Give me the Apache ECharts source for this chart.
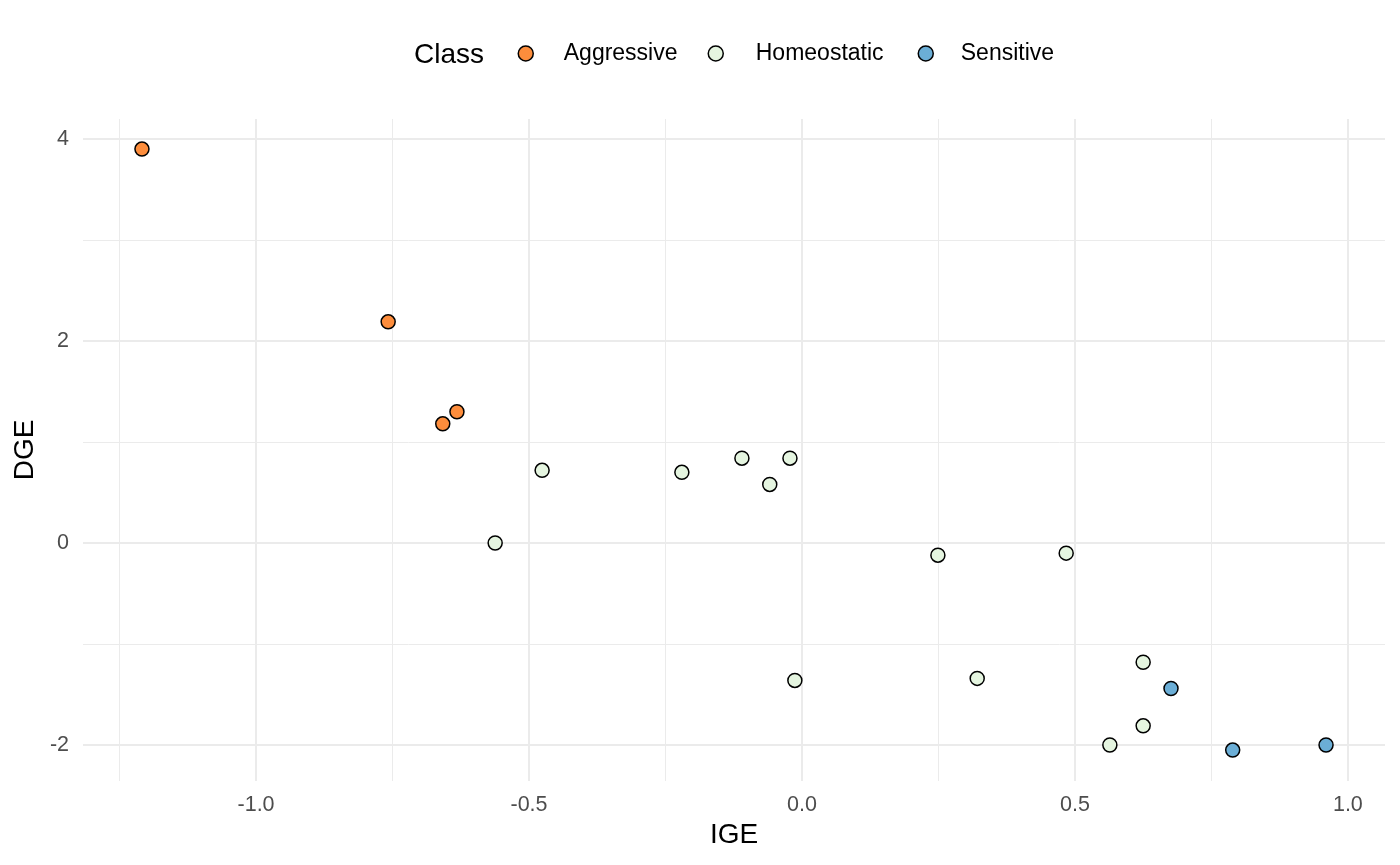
<!DOCTYPE html>
<html>
<head>
<meta charset="utf-8">
<script src="https://cdn.jsdelivr.net/npm/echarts@6/dist/echarts.min.js"></script>
<style>html,body{margin:0;padding:0;background:#fff}#c{width:1400px;height:865px}</style>
</head>
<body>
<div id="c"></div>
<script>
const classes = ['Aggressive', 'Homeostatic', 'Sensitive'];
const classColors = ['#fd8d3c', '#e5f5e0', '#6baed6'];

const aggressiveIGE = [-1.209, -0.758, -0.658, -0.632];
const aggressiveDGE = [3.90, 2.19, 1.18, 1.30];

const homeostaticIGE = [-0.562, -0.476, -0.220, -0.110, -0.059, -0.022, -0.013, 0.249, 0.321, 0.484, 0.625, 0.625, 0.564];
const homeostaticDGE = [0.00, 0.72, 0.70, 0.84, 0.58, 0.84, -1.36, -0.12, -1.34, -0.10, -1.18, -1.81, -2.00];

const sensitiveIGE = [0.676, 0.789, 0.960];
const sensitiveDGE = [-1.44, -2.05, -2.00];

const xMajorTicks = [-1.0, -0.5, 0.0, 0.5, 1.0];
const xMinorTicks = [-1.25, -0.75, -0.25, 0.25, 0.75];
const yMajorTicks = [-2, 0, 2, 4];
const yMinorTicks = [-1, 1, 3];

const xRange = [-1.317, 1.068];
const yRange = [-2.356, 4.198];

const FONT = '"Liberation Sans", Arial, sans-serif';

function pairs(xs, ys) { return xs.map((x, i) => [x, ys[i]]); }
const seriesData = [pairs(aggressiveIGE, aggressiveDGE), pairs(homeostaticIGE, homeostaticDGE), pairs(sensitiveIGE, sensitiveDGE)];

// legend item layout: [left, text padding]
const legendLayout = [[517.5, 25.5], [707.5, 27.5], [917.5, 22.5]];

const chart = echarts.init(document.getElementById('c'), null, { renderer: 'canvas' });
chart.setOption({
  animation: false,
  backgroundColor: '#ffffff',
  textStyle: { fontFamily: FONT },
  title: {
    text: 'Class', left: 414, top: 41, padding: 0,
    textStyle: { fontFamily: FONT, fontSize: 28, fontWeight: 'normal', color: '#000' }
  },
  legend: classes.map((name, i) => ({
    left: legendLayout[i][0], top: 42, padding: 0, itemWidth: 15, itemHeight: 15, icon: 'circle',
    data: [name],
    textStyle: { fontFamily: FONT, fontSize: 23, color: '#000', padding: [2, 0, 0, legendLayout[i][1]] },
    itemStyle: { borderColor: '#000', borderWidth: 1.5 }
  })),
  grid: { left: 83, right: 15, top: 119, bottom: 84, containLabel: false },
  xAxis: [{
    type: 'value', min: xRange[0], max: xRange[1],
    name: 'IGE', nameLocation: 'middle', nameGap: 40,
    nameTextStyle: { fontFamily: FONT, fontSize: 28, color: '#000' },
    axisLine: { show: false }, axisTick: { show: false, customValues: xMajorTicks },
    axisLabel: { customValues: xMajorTicks, color: '#4d4d4d', fontSize: 21.5, fontFamily: FONT, margin: 13, formatter: v => v.toFixed(1) },
    splitLine: { show: true, lineStyle: { color: '#ebebeb', width: 2 } }
  }, {
    type: 'value', min: xRange[0], max: xRange[1], position: 'top',
    axisLine: { show: false }, axisTick: { show: false, customValues: xMinorTicks },
    axisLabel: { show: false, customValues: xMinorTicks },
    splitLine: { show: true, lineStyle: { color: '#ebebeb', width: 1 } }
  }],
  yAxis: [{
    type: 'value', min: yRange[0], max: yRange[1],
    name: 'DGE', nameLocation: 'middle', nameGap: 42,
    nameTextStyle: { fontFamily: FONT, fontSize: 28, color: '#000' },
    axisLine: { show: false }, axisTick: { show: false, customValues: yMajorTicks },
    axisLabel: { customValues: yMajorTicks, color: '#4d4d4d', fontSize: 21.5, fontFamily: FONT, margin: 14, formatter: v => String(v) },
    splitLine: { show: true, lineStyle: { color: '#ebebeb', width: 2 } }
  }, {
    type: 'value', min: yRange[0], max: yRange[1], position: 'right',
    axisLine: { show: false }, axisTick: { show: false, customValues: yMinorTicks },
    axisLabel: { show: false, customValues: yMinorTicks },
    splitLine: { show: true, lineStyle: { color: '#ebebeb', width: 1 } }
  }],
  series: classes.map((name, i) => ({
    name: name, type: 'scatter', xAxisIndex: 0, yAxisIndex: 0,
    symbol: 'circle', symbolSize: 14,
    itemStyle: { color: classColors[i], borderColor: '#000', borderWidth: 1.5, opacity: 1 },
    data: seriesData[i]
  }))
});
</script>
</body>
</html>
